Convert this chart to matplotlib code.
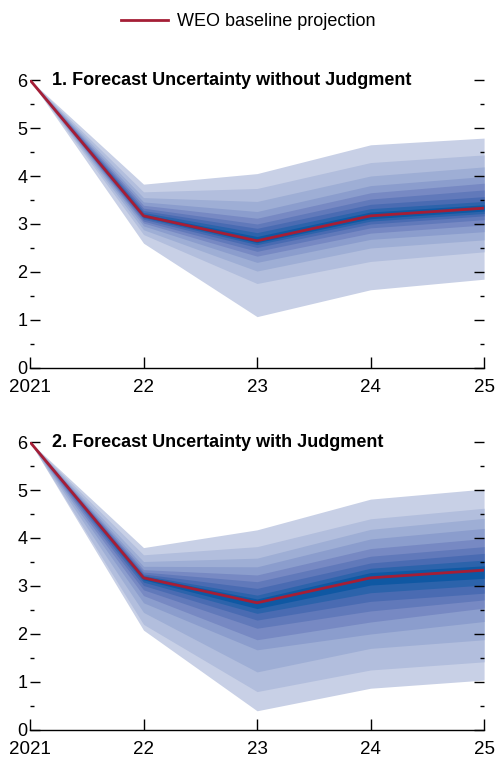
import matplotlib
matplotlib.use('Agg')
import matplotlib.pyplot as plt
from matplotlib.ticker import MultipleLocator

years = [2021, 2022, 2023, 2024, 2025]
xlabels = ['2021', '22', '23', '24', '25']

# WEO baseline projection
baseline = [6.0, 3.17, 2.65, 3.17, 3.33]

# panel 1: band edges per year, outer -> inner
p1_upper = [
    [6.0, 3.83, 4.05, 4.65, 4.79],
    [6.0, 3.67, 3.74, 4.28, 4.44],
    [6.0, 3.55, 3.47, 4.00, 4.19],
    [6.0, 3.46, 3.26, 3.80, 3.99],
    [6.0, 3.39, 3.12, 3.65, 3.85],
    [6.0, 3.33, 3.00, 3.52, 3.71],
    [6.0, 3.28, 2.91, 3.41, 3.57],
    [6.0, 3.24, 2.82, 3.32, 3.47],
    [6.0, 3.20, 2.74, 3.25, 3.40],
]
p1_lower = [
    [6.0, 2.60, 1.07, 1.63, 1.85],
    [6.0, 2.78, 1.76, 2.22, 2.42],
    [6.0, 2.88, 2.02, 2.50, 2.67],
    [6.0, 2.96, 2.20, 2.68, 2.84],
    [6.0, 3.02, 2.33, 2.81, 2.98],
    [6.0, 3.06, 2.43, 2.92, 3.09],
    [6.0, 3.10, 2.51, 3.00, 3.17],
    [6.0, 3.13, 2.57, 3.06, 3.22],
    [6.0, 3.15, 2.61, 3.11, 3.27],
]

# panel 2
p2_upper = [
    [6.0, 3.80, 4.17, 4.81, 5.02],
    [6.0, 3.65, 3.82, 4.40, 4.62],
    [6.0, 3.51, 3.58, 4.18, 4.41],
    [6.0, 3.41, 3.40, 3.98, 4.20],
    [6.0, 3.34, 3.23, 3.78, 3.99],
    [6.0, 3.29, 3.09, 3.62, 3.82],
    [6.0, 3.25, 2.95, 3.48, 3.68],
    [6.0, 3.22, 2.81, 3.37, 3.54],
    [6.0, 3.20, 2.73, 3.28, 3.42],
]
p2_lower = [
    [6.0, 2.08, 0.40, 0.87, 1.04],
    [6.0, 2.20, 0.80, 1.25, 1.42],
    [6.0, 2.45, 1.21, 1.70, 1.88],
    [6.0, 2.65, 1.67, 2.00, 2.26],
    [6.0, 2.80, 1.88, 2.25, 2.54],
    [6.0, 2.92, 2.12, 2.48, 2.71],
    [6.0, 3.01, 2.29, 2.68, 2.85],
    [6.0, 3.08, 2.43, 2.86, 3.02],
    [6.0, 3.13, 2.53, 3.02, 3.16],
]

titles = ['1. Forecast Uncertainty without Judgment',
          '2. Forecast Uncertainty with Judgment']

band_colors = ['#c8d0e6', '#b2bedd', '#9eaed5', '#8b9dcd', '#7789c3',
               '#6179ba', '#4a6bb2', '#2c63ab', '#0f58a3']

plt.rcParams['font.family'] = ['Liberation Sans', 'DejaVu Sans']

fig = plt.figure(figsize=(4.96, 7.57), dpi=100)
ax1 = fig.add_axes([0.0605, 0.5139, 0.9155, 0.3804])
ax2 = fig.add_axes([0.0605, 0.0357, 0.9155, 0.3804])

for ax, up, lo, title in [(ax1, p1_upper, p1_lower, titles[0]),
                          (ax2, p2_upper, p2_lower, titles[1])]:
    for k in range(len(up)):
        ax.fill_between(years, lo[k], up[k], color=band_colors[k], lw=0)
    line, = ax.plot(years, baseline, color='#a51e36', lw=2)
    ax.set_xlim(2021, 2025)
    ax.set_ylim(0, 6)
    for s in ['top', 'left', 'right']:
        ax.spines[s].set_visible(False)
    ax.spines['bottom'].set_linewidth(1.0)
    ax.set_xticks(years)
    ax.set_xticklabels(xlabels)
    ax.yaxis.set_major_locator(MultipleLocator(1))
    ax.yaxis.set_minor_locator(MultipleLocator(0.5))
    ax.tick_params(axis='y', which='major', direction='in', length=7, width=1,
                   left=True, right=True, labelsize=13, pad=2)
    ax.tick_params(axis='y', which='minor', direction='in', length=3, width=1,
                   left=True, right=True)
    ax.tick_params(axis='x', direction='in', length=8, width=1, labelsize=13.5, pad=8)
    for lab in ax.get_yticklabels():
        lab.set_verticalalignment('center_baseline')
    ax.text(0.048, 1.0, title, transform=ax.transAxes, fontsize=13,
            fontweight='bold', ha='left', va='center')

fig.legend([line], ['WEO baseline projection'], loc='center',
           bbox_to_anchor=(0.5, 0.971), frameon=False, fontsize=13,
           handlelength=2.6, handletextpad=0.5)

fig.savefig('out.png', dpi=100)
